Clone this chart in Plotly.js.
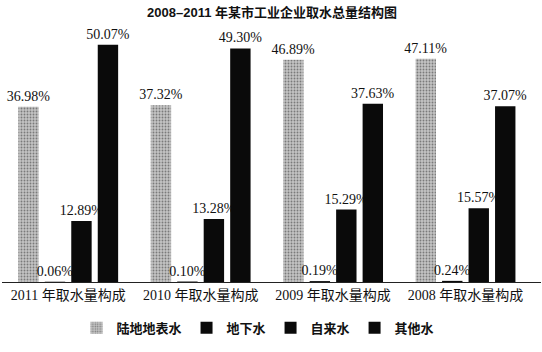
<!DOCTYPE html>
<html>
<head>
<meta charset="utf-8">
<script src="https://cdn.plot.ly/plotly-3.0.1.min.js"></script>
<style>html,body{margin:0;padding:0;background:#fff}#chart{width:542px;height:352px}</style>
</head>
<body>
<div id="chart"></div>
<script>
const categories = ["2011 年取水量构成", "2010 年取水量构成", "2009 年取水量构成", "2008 年取水量构成"];
const seriesNames = ["陆地地表水", "地下水", "自来水", "其他水"];
const surfaceWater = [36.98, 37.32, 46.89, 47.11];
const groundWater = [0.06, 0.10, 0.19, 0.24];
const tapWater = [12.89, 13.28, 15.29, 15.57];
const otherWater = [50.07, 49.30, 37.63, 37.07];

const labelFont = {family: "Liberation Serif, Times New Roman, serif", size: 14, color: "#111"};
function fmt(arr){ return arr.map(v => v.toFixed(2) + "%"); }

function mk(name, vals, marker){
  return {
    type: "bar", name: name, x: categories, y: vals,
    text: fmt(vals), textposition: "outside", textfont: labelFont,
    constraintext: "none", cliponaxis: false,
    marker: marker, hoverinfo: "skip"
  };
}

const data = [
  mk(seriesNames[0], surfaceWater, {color: "#b8b8b8", line: {width: 0},
     pattern: {shape: ".", fgcolor: "#7a7a7a", bgcolor: "#c4c4c4", size: 3, solidity: 0.3}}),
  mk(seriesNames[1], groundWater, {color: "#0a0a0a", line: {width: 0}}),
  mk(seriesNames[2], tapWater, {color: "#0a0a0a", line: {width: 0}}),
  mk(seriesNames[3], otherWater, {color: "#0a0a0a", line: {width: 0}})
];

const layout = {
  width: 542, height: 352,
  margin: {l: 2, r: 1, t: 20, b: 70},
  paper_bgcolor: "#fff", plot_bgcolor: "#fff",
  title: {text: "2008–2011 年某市工业企业取水总量结构图", x: 0.502, xanchor: "center", y: 0.966, yanchor: "middle",
          font: {family: "'Liberation Sans', Arial, 'Noto Sans CJK SC', sans-serif", size: 13, color: "#111", weight: "bold"}},
  barmode: "group", bargap: 0.2, bargroupgap: 0.23,
  showlegend: true,
  legend: {orientation: "h", x: 0.475, xanchor: "center", y: -0.175, yanchor: "middle",
           font: {family: "'Noto Sans CJK SC', sans-serif", size: 13, color: "#111", weight: "bold"},
           itemwidth: 30, traceorder: "normal"},
  xaxis: {type: "category", range: [-0.5, 3.57], showline: true, linecolor: "#222", linewidth: 1,
          ticks: "", showgrid: false, zeroline: false,
          tickfont: {family: "Liberation Serif, Noto Sans CJK SC, serif", size: 14, color: "#111"}},
  yaxis: {range: [0, 55.3], visible: false, showgrid: false, zeroline: false}
};

Plotly.newPlot("chart", data, layout, {staticPlot: true, displayModeBar: false});
</script>
</body>
</html>
